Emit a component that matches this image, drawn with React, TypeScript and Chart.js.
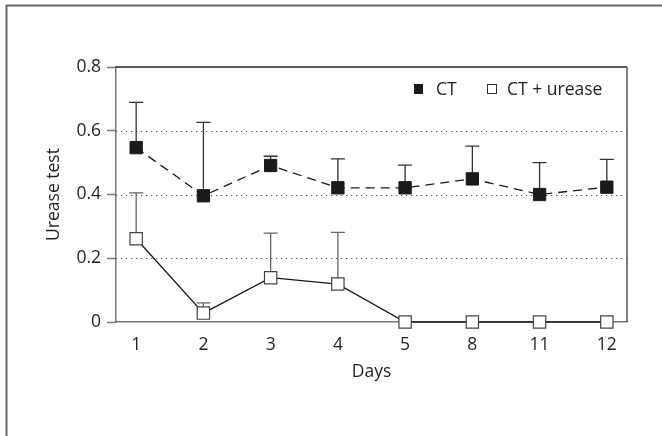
import React, { useEffect, useRef } from "react";
import { Chart, registerables } from "chart.js";

Chart.register(...registerables);

const days = ["1", "2", "3", "4", "5", "8", "11", "12"];
const ctMean = [0.547, 0.396, 0.491, 0.421, 0.421, 0.449, 0.4, 0.423];
const ctSD = [0.142, 0.23, 0.029, 0.091, 0.071, 0.103, 0.1, 0.087];
const ureaseMean = [0.261, 0.028, 0.139, 0.119, 0, 0, 0, 0];
const ureaseSD = [0.144, 0.032, 0.14, 0.162, 0, 0, 0, 0];
const yTicks = [0, 0.2, 0.4, 0.6, 0.8];
const gridValues = [0.2, 0.4, 0.6];

const FONT = "'Open Sans', 'Noto Sans', sans-serif";
const FS = 17.5;
const TEXT = "#231f20";

const decorPlugin = {
  id: "decor",
  beforeDraw(chart: any) {
    const ctx = chart.ctx;
    ctx.save();
    ctx.fillStyle = "#fff";
    ctx.fillRect(0, 0, chart.width, chart.height);
    ctx.strokeStyle = "#666";
    ctx.lineWidth = 2;
    ctx.beginPath();
    ctx.moveTo(6.5, 436);
    ctx.lineTo(6.5, 5.5);
    ctx.lineTo(662, 5.5);
    ctx.stroke();
    ctx.restore();
  },
  beforeDatasetsDraw(chart: any) {
    const ctx = chart.ctx;
    const { left, right, top, bottom } = chart.chartArea;
    const xs = chart.scales.x;
    const ys = chart.scales.y;
    ctx.save();
    // dotted grid
    ctx.strokeStyle = "#555";
    ctx.lineWidth = 1.2;
    ctx.setLineDash([1.3, 3.7]);
    gridValues.forEach((v) => {
      const y = Math.round(ys.getPixelForValue(v)) + 0.5;
      ctx.beginPath();
      ctx.moveTo(left, y);
      ctx.lineTo(right, y);
      ctx.stroke();
    });
    ctx.setLineDash([]);
    // top and right frame
    ctx.strokeStyle = "#222";
    ctx.lineWidth = 1.5;
    ctx.beginPath();
    ctx.moveTo(left, top);
    ctx.lineTo(right, top);
    ctx.stroke();
    ctx.strokeStyle = "#555";
    ctx.beginPath();
    ctx.moveTo(right, top);
    ctx.lineTo(right, bottom);
    ctx.stroke();
    // error bars (upper only)
    const drawErr = (means: number[], sds: number[], color: string) => {
      ctx.strokeStyle = color;
      ctx.lineWidth = 1.3;
      means.forEach((m, i) => {
        if (!sds[i]) return;
        const x = xs.getPixelForValue(i);
        const y0 = ys.getPixelForValue(m);
        const y1 = ys.getPixelForValue(m + sds[i]);
        ctx.beginPath();
        ctx.moveTo(x, y0);
        ctx.lineTo(x, y1);
        ctx.moveTo(x - 7, y1);
        ctx.lineTo(x + 7, y1);
        ctx.stroke();
      });
    };
    drawErr(ctMean, ctSD, "#333");
    drawErr(ureaseMean, ureaseSD, "#666");
    ctx.restore();
  },
  afterDraw(chart: any) {
    const ctx = chart.ctx;
    const { left, right, top, bottom } = chart.chartArea;
    ctx.save();
    ctx.fillStyle = TEXT;
    ctx.font = `${FS}px ${FONT}`;
    // axis titles
    ctx.textAlign = "center";
    ctx.textBaseline = "middle";
    ctx.fillText("Days", (left + right) / 2, 372);
    ctx.save();
    ctx.translate(54, (top + bottom) / 2);
    ctx.rotate(-Math.PI / 2);
    ctx.fillText("Urease test", 0, 0);
    ctx.restore();
    // legend
    ctx.textAlign = "left";
    ctx.textBaseline = "alphabetic";
    ctx.fillStyle = "#1a1a1a";
    ctx.fillRect(414, 84, 9, 10);
    ctx.fillStyle = TEXT;
    ctx.fillText("CT", 436, 95);
    ctx.strokeStyle = "#333";
    ctx.lineWidth = 1;
    ctx.strokeRect(487.5, 84.5, 9, 9);
    ctx.fillText("CT + urease", 507, 95);
    ctx.restore();
  },
};

export default function App() {
  const ref = useRef<HTMLCanvasElement>(null);
  useEffect(() => {
    if (!ref.current) return;
    const chart = new Chart(ref.current, {
      type: "line",
      data: {
        datasets: [
          {
            label: "CT",
            data: ctMean.map((y, i) => ({ x: i, y })),
            borderColor: "#1a1a1a",
            borderWidth: 1.3,
            borderDash: [9, 6],
            pointStyle: "rect",
            pointRadius: 8.7,
            pointBackgroundColor: "#1a1a1a",
            pointBorderColor: "#1a1a1a",
            pointBorderWidth: 1,
            clip: false,
          } as any,
          {
            label: "CT + urease",
            data: ureaseMean.map((y, i) => ({ x: i, y })),
            borderColor: "#1a1a1a",
            borderWidth: 1.3,
            pointStyle: "rect",
            pointRadius: 8.7,
            pointBackgroundColor: "#fff",
            pointBorderColor: "#444",
            pointBorderWidth: 1.2,
            clip: false,
          } as any,
        ],
      },
      options: {
        animation: false,
        responsive: false,
        devicePixelRatio: 1,
        layout: { padding: { left: 0, top: 67, right: 35, bottom: 0 } },
        plugins: { legend: { display: false }, tooltip: { enabled: false } },
        scales: {
          x: {
            type: "linear",
            min: -0.3,
            max: 7.3,
            afterBuildTicks: (s: any) => {
              s.ticks = days.map((_, i) => ({ value: i }));
            },
            afterFit: (s: any) => {
              s.height = 114;
            },
            ticks: {
              callback: (v: any) => days[v],
              autoSkip: false,
              maxRotation: 0,
              padding: 13,
              color: TEXT,
              font: { family: FONT, size: FS },
            },
            grid: { display: false, drawTicks: false },
            border: { display: true, color: "#777", width: 1.5 },
          },
          y: {
            min: 0,
            max: 0.8,
            afterBuildTicks: (s: any) => {
              s.ticks = yTicks.map((v) => ({ value: v }));
            },
            afterFit: (s: any) => {
              s.width = 116;
            },
            ticks: {
              callback: (v: any) => (v === 0 ? "0" : Number(v).toFixed(1)),
              padding: 6,
              color: TEXT,
              font: { family: FONT, size: FS },
            },
            grid: {
              drawOnChartArea: false,
              drawTicks: true,
              tickLength: 9,
              tickColor: "#777",
              tickWidth: 1.5,
            },
            border: { display: true, color: "#777", width: 1.5 },
          },
        },
      },
      plugins: [decorPlugin],
    });
    return () => chart.destroy();
  }, []);
  return (
    <div style={{ position: "fixed", left: 0, top: 0, width: 662, height: 436, background: "#fff" }}>
      <canvas ref={ref} width={662} height={436} style={{ display: "block" }} />
    </div>
  );
}
